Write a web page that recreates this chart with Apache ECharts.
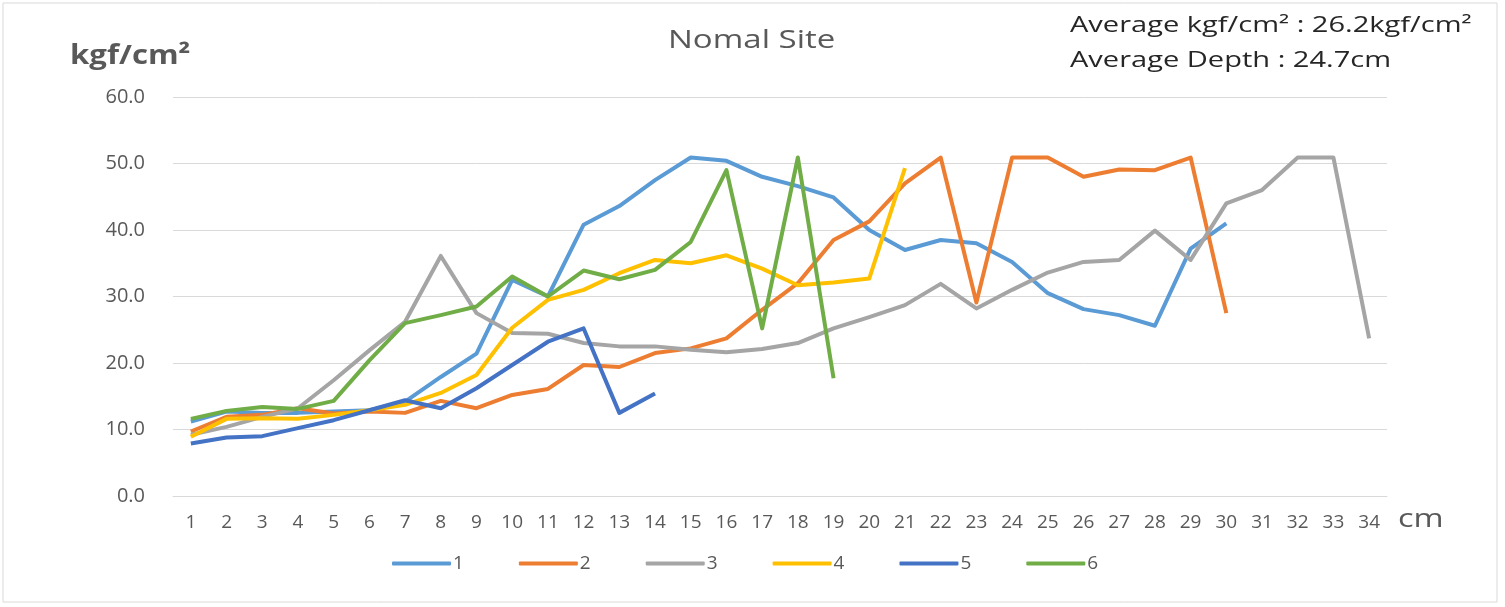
<!DOCTYPE html>
<html><head><meta charset="utf-8">
<script src="https://cdn.jsdelivr.net/npm/echarts@6/dist/echarts.min.js"></script>
<style>html,body{margin:0;padding:0;background:#fff}#c{width:1505px;height:607px}</style>
</head><body><div id="c"></div>
<script>
const categories = Array.from({length:34},(_,i)=>String(i+1));
const seriesNames = ['1','2','3','4','5','6'];
const s1 = [11.2,12.7,12.5,12.5,12.7,12.9,14.2,17.9,21.4,32.5,30.0,40.8,43.6,47.5,50.9,50.4,48.0,46.6,44.9,40.0,37.0,38.5,38.0,35.2,30.5,28.1,27.2,25.6,37.2,41.0];
const s2 = [9.7,11.9,12.2,13.2,12.4,12.7,12.5,14.3,13.2,15.2,16.1,19.7,19.4,21.5,22.2,23.7,28.0,32.0,38.5,41.3,47.0,50.9,29.1,50.9,50.9,48.0,49.1,49.0,50.9,27.5];
const s3 = [9.2,10.4,11.9,13.2,17.4,21.9,26.2,36.1,27.5,24.5,24.4,23.0,22.5,22.5,22.0,21.6,22.1,23.0,25.2,26.9,28.7,31.9,28.2,31.0,33.6,35.2,35.5,39.9,35.5,44.0,46.0,50.9,50.9,23.7];
const s4 = [8.9,11.6,11.7,11.6,12.2,12.9,13.7,15.5,18.2,25.3,29.5,31.0,33.5,35.5,35.0,36.2,34.2,31.7,32.1,32.7,49.3];
const s5 = [7.9,8.8,9.0,10.2,11.4,12.9,14.4,13.2,16.2,19.7,23.2,25.2,12.5,15.4];
const s6 = [11.6,12.8,13.4,13.1,14.3,20.4,26.0,27.2,28.5,33.0,30.0,33.9,32.6,34.0,38.2,49.0,25.2,50.9,17.7];
const allData = [s1,s2,s3,s4,s5,s6];
const colors = ['#5B9BD5','#ED7D31','#A5A5A5','#FFC000','#4472C4','#70AD47'];

const chart = echarts.init(document.getElementById('c'), null, {renderer:'canvas'});
chart.setOption({
  animation:false,
  color:colors,
  grid:{left:173,right:118,top:97,bottom:111,containLabel:false},
  xAxis:{type:'category',data:categories,boundaryGap:true,
    axisLine:{lineStyle:{color:'#D9D9D9',width:1}},axisTick:{show:false},
    axisLabel:{color:'#595959',fontSize:19,fontFamily:'Open Sans',margin:17}},
  yAxis:{type:'value',min:0,max:60,interval:10,
    axisLine:{show:false},axisTick:{show:false},
    splitLine:{lineStyle:{color:'#D9D9D9',width:1}},
    axisLabel:{color:'#595959',fontSize:20,fontFamily:'Open Sans',margin:28,formatter:v=>v.toFixed(1)}},
  legend:{top:554,left:392,padding:0,itemWidth:59,itemHeight:4,itemGap:55,icon:'roundRect',
    textStyle:{color:'#595959',fontSize:19,fontFamily:'Open Sans',padding:[0,0,0,-3]},
    data:seriesNames},
  series: allData.map((d,i)=>({name:seriesNames[i],type:'line',data:d,showSymbol:false,symbol:'none',
    lineStyle:{width:4,color:colors[i],join:'round'},itemStyle:{color:colors[i]}})),
  graphic:[
    {type:'rect',x:3,y:3,shape:{width:1494,height:599},style:{fill:'none',stroke:'#D9D9D9',lineWidth:1}},
    {type:'text',x:668,y:41,scaleX:1.27,style:{text:'Nomal Site',fill:'#595959',font:'26px "Open Sans"',textVerticalAlign:'middle',verticalAlign:'middle'}},
    {type:'text',x:70,y:57,scaleX:1.2,style:{text:'kgf/cm²',fill:'#595959',font:'bold 26px "Open Sans"',textVerticalAlign:'middle',verticalAlign:'middle'}},
    {type:'text',x:1070,y:26,scaleX:1.32,style:{text:'Average kgf/cm² : 26.2kgf/cm²',fill:'#262626',font:'22px "Open Sans"',textVerticalAlign:'middle',verticalAlign:'middle'}},
    {type:'text',x:1070,y:61,scaleX:1.32,style:{text:'Average Depth : 24.7cm',fill:'#262626',font:'22px "Open Sans"',textVerticalAlign:'middle',verticalAlign:'middle'}},
    {type:'text',x:1398,y:520,scaleX:1.3,style:{text:'cm',fill:'#595959',font:'25px "Open Sans"',textVerticalAlign:'middle',verticalAlign:'middle'}}
  ]
});
</script></body></html>
